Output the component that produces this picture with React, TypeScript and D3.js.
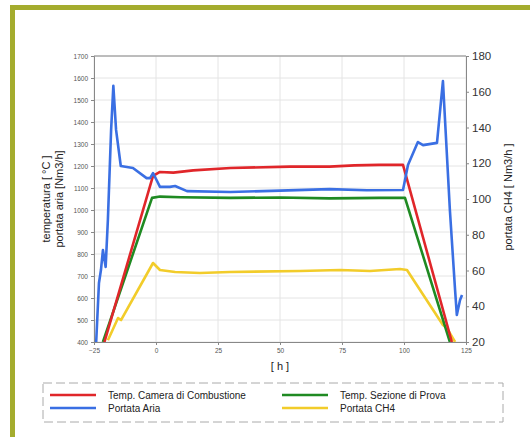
import React, { useEffect, useRef } from "react";
import * as d3 from "d3";

// ore [h] e valori
const redHours = [-20.8, -1.2, 1.6, 7, 15, 30, 54, 70, 80, 90, 99.6, 119.3];
const redTemp = [400, 1155, 1173, 1170, 1180, 1191, 1197, 1197, 1203, 1205, 1205, 400];

const greenHours = [-21.4, -1.6, 1.6, 10, 30, 50, 70, 90, 100.4, 118.5];
const greenTemp = [400, 1055, 1061, 1058, 1055, 1057, 1053, 1055, 1055, 400];

const blueHours = [
  -24.2, -23, -22.2, -21.4, -20.3, -19.4, -18.1, -17.2, -16.1, -14.2, -9.3, -3.8, -2.4, -1.2,
  1.6, 5.6, 7.7, 12.5, 30, 50, 70, 85, 99.6, 101.6, 105.6, 107.7, 113.3, 115.7, 118.5, 120.6,
  121.3, 122.6, 123.4,
];
const blueFlow = [
  380, 668, 727, 818, 741, 955, 1364, 1564, 1364, 1200, 1191, 1145, 1145, 1168, 1105, 1105,
  1109, 1086, 1082, 1088, 1095, 1090, 1091, 1205, 1309, 1295, 1305, 1586, 1000, 636, 523, 591,
  614,
];

const yellowHours = [
  -19.4, -15.3, -14.1, -1.2, 1.6, 7.7, 17.7, 29.8, 58.1, 74.2, 86.3, 98.4, 101.2, 115.7, 117.3,
  120.6,
];
const yellowCh4 = [21, 33.4, 32.3, 64.2, 60.3, 59.2, 58.6, 59.2, 59.7, 60.3, 59.7, 60.8, 60.3, 29.5, 27.8, 20];

const xTicks = [-25, 0, 25, 50, 75, 100, 125];
const leftTicks = d3.range(400, 1701, 100);
const rightTicks = [20, 40, 60, 80, 100, 120, 140, 160, 180];

const legendItems = [
  { label: "Temp. Camera di Combustione", color: "#e0262a" },
  { label: "Temp. Sezione di Prova", color: "#1f8a22" },
  { label: "Portata Aria", color: "#3a6fe3" },
  { label: "Portata CH4", color: "#f2cc2a" },
];

export default function App() {
  const ref = useRef<SVGSVGElement>(null);

  useEffect(() => {
    const svg = d3.select(ref.current);
    svg.selectAll("*").remove();

    const left = 94;
    const right = 466;
    const top = 56;
    const bottom = 342;
    const font = "Liberation Sans, Arial, sans-serif";

    // cornice verde oliva
    svg.append("rect").attr("x", 10).attr("y", 5).attr("width", 520).attr("height", 5).attr("fill", "#a4ac2e");
    svg.append("rect").attr("x", 10).attr("y", 5).attr("width", 5).attr("height", 432).attr("fill", "#a4ac2e");

    const x = d3.scaleLinear().domain([-25, 125]).range([left, right]);
    const yL = d3.scaleLinear().domain([400, 1700]).range([bottom, top]);
    const yR = d3.scaleLinear().domain([20, 180]).range([bottom, top]);

    // griglia
    const grid = svg.append("g").attr("stroke", "#e4e4e4").attr("stroke-width", 1);
    grid
      .selectAll("line.h")
      .data(leftTicks)
      .join("line")
      .attr("x1", left)
      .attr("x2", right)
      .attr("y1", (d) => yL(d))
      .attr("y2", (d) => yL(d));
    grid
      .selectAll("line.v")
      .data(xTicks)
      .join("line")
      .attr("x1", (d) => x(d))
      .attr("x2", (d) => x(d))
      .attr("y1", top)
      .attr("y2", bottom);

    // assi
    const axL = svg
      .append("g")
      .attr("transform", `translate(${left},0)`)
      .call(d3.axisLeft(yL).tickValues(leftTicks).tickSize(3).tickFormat(d3.format("d")));
    axL.selectAll("text").style("font-size", "6.5px").style("font-family", font).attr("fill", "#555");

    const axR = svg
      .append("g")
      .attr("transform", `translate(${right},0)`)
      .call(d3.axisRight(yR).tickValues(rightTicks).tickSize(3).tickFormat(d3.format("d")));
    axR.selectAll("text").style("font-size", "11.5px").style("font-family", font).attr("fill", "#333");

    const axB = svg
      .append("g")
      .attr("transform", `translate(0,${bottom})`)
      .call(d3.axisBottom(x).tickValues(xTicks).tickSize(3).tickFormat(d3.format("d")));
    axB.selectAll("text").style("font-size", "6.5px").style("font-family", font).attr("fill", "#555");

    svg.selectAll(".domain").attr("stroke", "#888");
    svg.selectAll(".tick line").attr("stroke", "#888");

    svg
      .append("line")
      .attr("x1", left)
      .attr("x2", right)
      .attr("y1", top)
      .attr("y2", top)
      .attr("stroke", "#888");

    // linee
    svg
      .append("clipPath")
      .attr("id", "plot-clip")
      .append("rect")
      .attr("x", left)
      .attr("y", top)
      .attr("width", right - left)
      .attr("height", bottom - top);

    const plot = svg.append("g").attr("clip-path", "url(#plot-clip)");

    const series = [
      { hours: yellowHours, vals: yellowCh4, y: yR, color: legendItems[3].color },
      { hours: greenHours, vals: greenTemp, y: yL, color: legendItems[1].color },
      { hours: redHours, vals: redTemp, y: yL, color: legendItems[0].color },
      { hours: blueHours, vals: blueFlow, y: yL, color: legendItems[2].color },
    ];

    series.forEach((s) => {
      const line = d3
        .line<number>()
        .x((_, i) => x(s.hours[i]))
        .y((d) => s.y(d));
      plot
        .append("path")
        .datum(s.vals)
        .attr("d", line)
        .attr("fill", "none")
        .attr("stroke", s.color)
        .attr("stroke-width", 2.6)
        .attr("stroke-linejoin", "round");
    });

    // titoli assi
    svg
      .append("text")
      .attr("x", (left + right) / 2)
      .attr("y", 370)
      .attr("text-anchor", "middle")
      .style("font-family", font)
      .style("font-size", "11px")
      .attr("fill", "#222")
      .text("[ h ]");

    const yTitle = svg
      .append("text")
      .attr("transform", `translate(0,${(top + bottom) / 2}) rotate(-90)`)
      .attr("text-anchor", "middle")
      .style("font-family", font)
      .style("font-size", "11px")
      .attr("fill", "#222");
    yTitle.append("tspan").attr("x", 0).attr("y", 50).text("temperatura [ °C ]");
    yTitle.append("tspan").attr("x", 0).attr("y", 63).text("portata aria [Nm3/h]");

    svg
      .append("text")
      .attr("transform", `translate(512,${(top + bottom) / 2 - 2}) rotate(-90)`)
      .attr("text-anchor", "middle")
      .style("font-family", font)
      .style("font-size", "11px")
      .attr("fill", "#222")
      .text("portata CH4 [ Nm3/h ]");

    // legenda
    svg
      .append("rect")
      .attr("x", 43)
      .attr("y", 383)
      .attr("width", 460)
      .attr("height", 39)
      .attr("fill", "none")
      .attr("stroke", "#aaa")
      .attr("stroke-dasharray", "9,4");

    const lg = svg
      .selectAll("g.legend")
      .data(legendItems)
      .join("g")
      .attr("class", "legend")
      .attr("transform", (_, i) => `translate(${i % 2 === 0 ? 50 : 282},${i < 2 ? 395 : 408})`);
    lg.append("line")
      .attr("x1", 0)
      .attr("x2", 46)
      .attr("stroke", (d) => d.color)
      .attr("stroke-width", 2.6);
    lg.append("text")
      .attr("x", 58)
      .attr("y", 4)
      .style("font-family", font)
      .style("font-size", "10px")
      .attr("fill", "#222")
      .text((d) => d.label);
  }, []);

  return (
    <svg
      ref={ref}
      width={530}
      height={437}
      style={{ position: "absolute", left: 0, top: 0, background: "#fff" }}
    />
  );
}
